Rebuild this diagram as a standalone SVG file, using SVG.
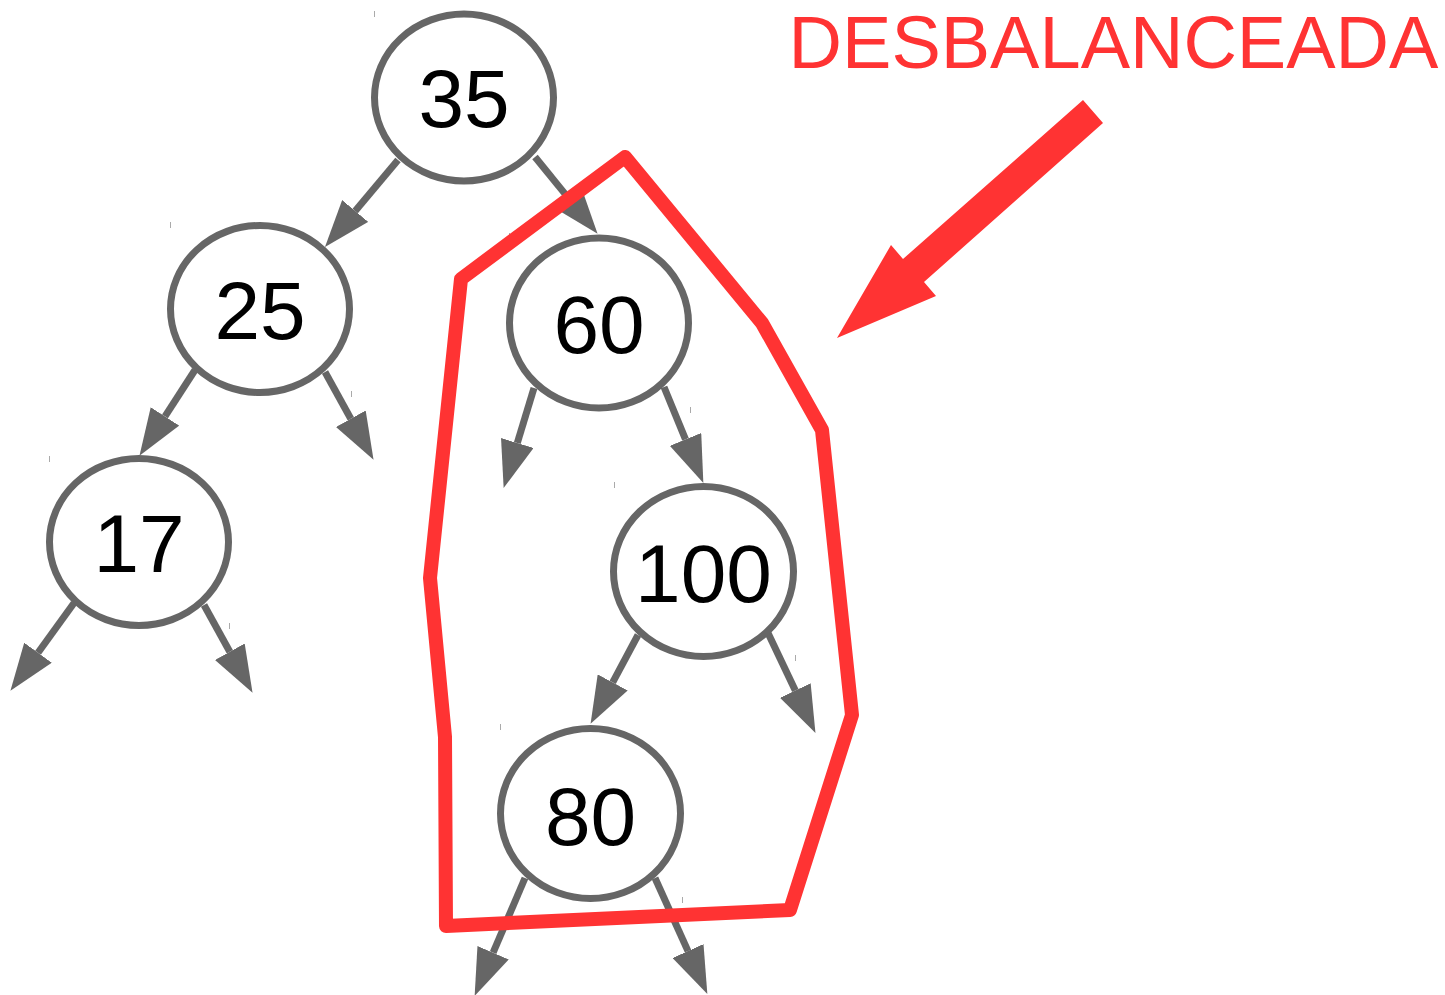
<svg xmlns="http://www.w3.org/2000/svg" width="1445" height="995" viewBox="0 0 1445 995">
<style>
.node ellipse{fill:#ffffff;stroke:#666666;stroke-width:7}
.node text{font-family:"Liberation Sans",Arial,sans-serif;font-size:82px;fill:#000000;text-anchor:middle}
.edge{stroke:#666666;stroke-width:7;fill:none;marker-end:url(#ah)}
.tick{stroke:#aaaaaa;stroke-width:1}
</style>
<defs>
<marker id="ah" markerUnits="userSpaceOnUse" markerWidth="48" markerHeight="34" refX="0" refY="17" orient="auto" viewBox="0 0 48 34">
<path d="M0,0 L47,17 L0,34 Z" fill="#666666"/>
</marker>
</defs>
<rect width="1445" height="995" fill="#ffffff"/>
<g id="connectors">
<line class="edge" x1="398" y1="160" x2="355.2" y2="211"/>
<line class="edge" x1="535" y1="157" x2="567.9" y2="197.4"/>
<line class="edge" x1="195" y1="370" x2="165" y2="416.4"/>
<line class="edge" x1="325" y1="372" x2="350.8" y2="418.7"/>
<line class="edge" x1="74" y1="603" x2="38" y2="652.7"/>
<line class="edge" x1="204" y1="605" x2="229.8" y2="651.7"/>
<line class="edge" x1="534" y1="388" x2="517.3" y2="443"/>
<line class="edge" x1="664" y1="387" x2="685.5" y2="439.4"/>
<line class="edge" x1="638" y1="635" x2="612.7" y2="682.4"/>
<line class="edge" x1="768" y1="633" x2="795.3" y2="690.5"/>
<line class="edge" x1="525" y1="878" x2="493.1" y2="952.7"/>
<line class="edge" x1="655" y1="878" x2="688" y2="951.1"/>
</g>
<g id="ticks">
<line class="tick" x1="374.5" y1="11" x2="374.5" y2="17"/>
<line class="tick" x1="170.5" y1="222" x2="170.5" y2="228"/>
<line class="tick" x1="49.5" y1="456" x2="49.5" y2="462"/>
<line class="tick" x1="351.5" y1="391" x2="351.5" y2="397"/>
<line class="tick" x1="229.5" y1="623" x2="229.5" y2="629"/>
<line class="tick" x1="509.5" y1="233" x2="509.5" y2="240"/>
<line class="tick" x1="690.5" y1="407" x2="690.5" y2="413"/>
<line class="tick" x1="614.5" y1="482" x2="614.5" y2="488"/>
<line class="tick" x1="795.5" y1="655" x2="795.5" y2="661"/>
<line class="tick" x1="500.5" y1="724" x2="500.5" y2="730"/>
<line class="tick" x1="682.5" y1="897" x2="682.5" y2="903"/>
</g>
<g id="node-35" class="node"><ellipse cx="464" cy="97.5" rx="89.5" ry="83.5"/><text x="464" y="127">35</text></g>
<g id="node-25" class="node"><ellipse cx="260" cy="309" rx="89.5" ry="83.5"/><text x="260" y="339">25</text></g>
<g id="node-17" class="node"><ellipse cx="139" cy="542" rx="89.5" ry="83.5"/><text x="139" y="572">17</text></g>
<g id="node-60" class="node"><ellipse cx="599" cy="323" rx="89.5" ry="85"/><text x="599" y="353">60</text></g>
<g id="node-100" class="node"><ellipse cx="703.5" cy="571.5" rx="90" ry="85"/><text x="703.5" y="602">100</text></g>
<g id="node-80" class="node"><ellipse cx="590.5" cy="813.5" rx="90" ry="85"/><text x="590.5" y="845">80</text></g>
<g id="highlight">
<polygon points="461,279 625,157 762,323 822,430 852,715 790,910 446,926 445,737 430,578" fill="none" stroke="#ff3333" stroke-width="14" stroke-linejoin="round"/>
<polygon points="1083,100 1103,123 924,282 936,296 837,338 891,245 903,259" fill="#ff3333"/>
<text x="1113.5" y="68" font-family="'Liberation Sans',Arial,sans-serif" font-size="74" fill="#ff3333" text-anchor="middle">DESBALANCEADA</text>
</g>
</svg>
